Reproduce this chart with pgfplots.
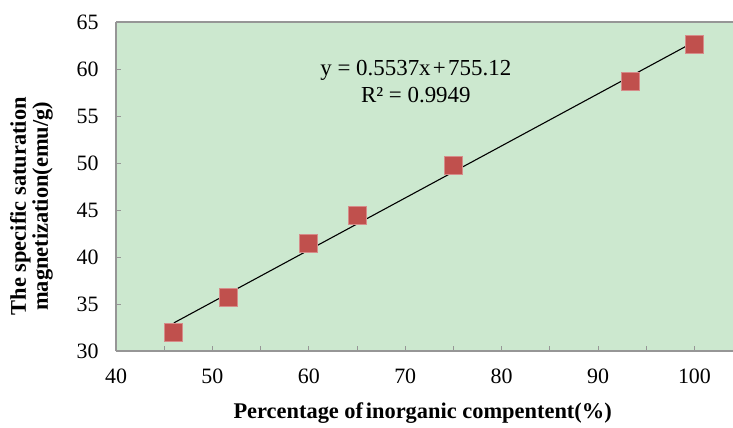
\documentclass[border=0pt]{standalone}
\usepackage{pgfplots}
\pgfplotsset{compat=1.18}
\usepackage{fontspec}
\setmainfont{Liberation Serif}
\definecolor{bgG}{RGB}{204,232,207}
\definecolor{mkR}{RGB}{192,80,77}
\definecolor{mkB}{RGB}{214,140,138}
\definecolor{axG}{RGB}{150,150,150}
\begin{document}
\begin{tikzpicture}[x=1bp,y=1bp]
\useasboundingbox (0,0) rectangle (733,427);
\begin{axis}[
  at={(116bp,76bp)}, anchor=south west,
  width=617bp, height=329bp, scale only axis,
  xmin=40, xmax=104, ymin=30, ymax=65,
  axis background/.style={fill=bgG},
  axis x line*=box, axis y line*=left,
  x axis line style={draw=axG, line width=1.2bp},
  y axis line style={draw=axG, line width=1.2bp},
  xtick={40,50,...,100}, ytick={30,35,...,65},
  minor xtick={45,55,...,95},
  xtick pos=bottom, ytick pos=left,
  tick align=inside,
  major tick length=5bp, minor tick length=5bp,
  every tick/.style={draw=axG, line width=0.8bp},
  /pgf/number format/assume math mode=true,
  tick label style={font=\fontsize{22}{26}\selectfont, black},
  xticklabel style={yshift=-14bp},
  yticklabel style={xshift=-14bp},
  xlabel={\textbf{Percentage of\hspace{0.12em}inorganic compentent(\%)}},
  xlabel style={font=\fontsize{22.5}{26}\selectfont, at={(axis description cs:0.497,-0.19)}, anchor=center},
  ylabel={\textbf{The specific saturation}\\\textbf{magnetization(emu/g)}},
  ylabel style={font=\fontsize{22.5}{22}\selectfont, align=center, at={(axis description cs:-0.137,0.44)}, anchor=center, rotate=0},
  clip=false,
]
\addplot[only marks, mark=square*, mark size=9bp, mark options={fill=mkR, draw=mkB, line width=0.8bp}]
  coordinates {(46,32.0) (51.7,35.7) (60,41.5) (65,44.4) (75,49.7) (93.4,58.7) (100,62.6)};
\addplot[black, line width=1.1bp] coordinates {(46,32.99) (100,62.90)};
\node[font=\fontsize{23}{27}\selectfont, align=center] at (axis cs:71.1,58.67)
  {y = 0.5537x\hspace{0.1em}+\hspace{0.1em}755.12\\R² = 0.9949};
\end{axis}
\end{tikzpicture}
\end{document}
